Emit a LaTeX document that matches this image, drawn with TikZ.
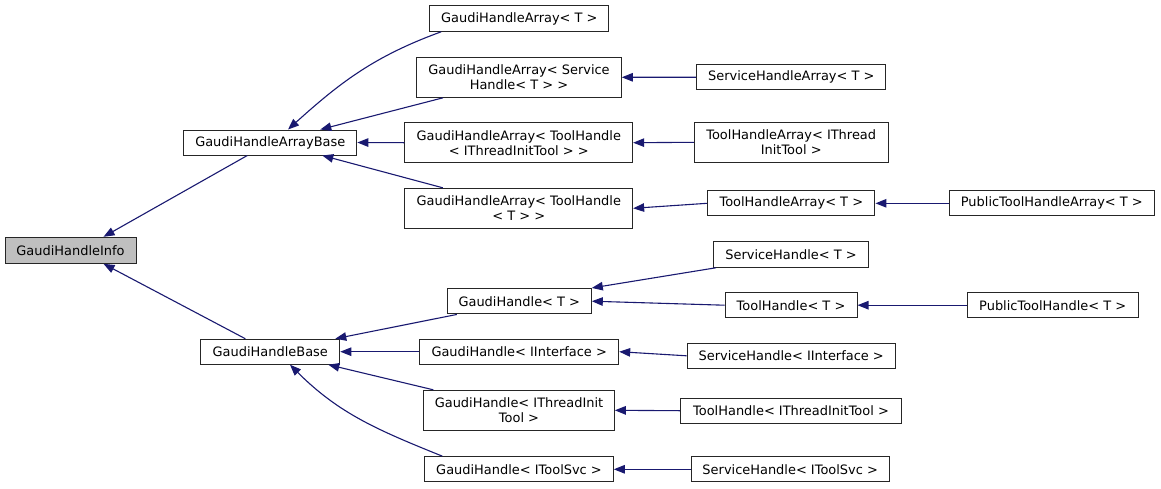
\documentclass[tikz,border=0pt]{standalone}
\usepackage{fontspec}
\setmainfont{DejaVu Sans}
\usetikzlibrary{arrows.meta}
\definecolor{edgecol}{HTML}{191970}
\definecolor{infofill}{HTML}{BFBFBF}
\begin{document}
\begin{tikzpicture}[x=1pt,y=1pt,
  cls/.style={draw=black!85,line width=1pt,inner sep=0pt,align=center,
    font=\fontsize{12.95}{15}\selectfont},
  inh/.style={draw=edgecol,line width=1.1pt,-{Triangle[length=11pt,width=8.5pt]}}]
\useasboundingbox (0,0) rectangle (1161,-488);
% column 1
\node[cls,fill=infofill,minimum width=131,minimum height=26] (info) at (70.5,-250.3) {GaudiHandleInfo};
% column 2
\node[cls,minimum width=173,minimum height=25] (arraybase) at (270.3,-142.5) {GaudiHandleArrayBase};
\node[cls,minimum width=139,minimum height=25] (handlebase) at (270.3,-351.7) {GaudiHandleBase};
% column 3
\node[cls,minimum width=179,minimum height=25.5] (ghat) at (519.3,-18.5) {GaudiHandleArray< T >};
\node[cls,minimum width=204.6,minimum height=40] (ghasvc) at (519,-77.3) {GaudiHandleArray< Service\\Handle< T > >};
\node[cls,minimum width=227.7,minimum height=40] (ghathi) at (518.8,-142.7) {GaudiHandleArray< ToolHandle\\< IThreadInitTool > >};
\node[cls,minimum width=227.7,minimum height=40] (ghatht) at (518.8,-208.3) {GaudiHandleArray< ToolHandle\\< T > >};
\node[cls,minimum width=144,minimum height=25.5] (ght) at (519.3,-301.2) {GaudiHandle< T >};
\node[cls,minimum width=199,minimum height=25.3] (ghii) at (519.2,-351.7) {GaudiHandle< IInterface >};
\node[cls,minimum width=190.6,minimum height=40] (ghiti) at (519,-410.3) {GaudiHandle< IThreadInit\\Tool >};
\node[cls,minimum width=188.6,minimum height=25.3] (ghits) at (519,-469.3) {GaudiHandle< IToolSvc >};
% column 4
\node[cls,minimum width=189.3,minimum height=25.5] (shat) at (791.3,-77.2) {ServiceHandleArray< T >};
\node[cls,minimum width=193.7,minimum height=40] (thai) at (791.2,-142.3) {ToolHandleArray< IThread\\InitTool >};
\node[cls,minimum width=167.3,minimum height=25.3] (thatt) at (791.3,-203.3) {ToolHandleArray< T >};
\node[cls,minimum width=155.4,minimum height=25.5] (sht) at (791,-254.5) {ServiceHandle< T >};
\node[cls,minimum width=132,minimum height=25] (tht) at (791,-305.2) {ToolHandle< T >};
\node[cls,minimum width=208.3,minimum height=25.5] (shii) at (791.2,-355.8) {ServiceHandle< IInterface >};
\node[cls,minimum width=220.6,minimum height=25.3] (thiti) at (791,-410.7) {ToolHandle< IThreadInitTool >};
\node[cls,minimum width=198.3,minimum height=25.3] (shits) at (790.2,-469.3) {ServiceHandle< IToolSvc >};
% column 5
\node[cls,minimum width=205,minimum height=25.3] (pthat) at (1051.8,-203.3) {PublicToolHandleArray< T >};
\node[cls,minimum width=171.3,minimum height=25] (ptht) at (1052.7,-305.2) {PublicToolHandle< T >};
% edges
\draw[inh] ([xshift=-23]arraybase.south) -- ([xshift=33]info.north);
\draw[inh] ([xshift=-25]handlebase.north) -- ([xshift=33]info.south);
\draw[inh] ([xshift=-78]ghat.south) to[out=200,in=42] ([xshift=17.7]arraybase.north);
\draw[inh] ([xshift=-76]ghasvc.south) -- ([xshift=50]arraybase.north);
\draw[inh] (ghathi.west) -- (arraybase.east);
\draw[inh] ([xshift=-76]ghatht.north) -- ([xshift=52]arraybase.south);
\draw[inh] ([xshift=-62.5]ght.south) -- ([xshift=-5]handlebase.north east);
\draw[inh] (ghii.west) -- (handlebase.east);
\draw[inh] ([xshift=-85.7]ghiti.north) -- ([xshift=-12]handlebase.south east);
\draw[inh] ([xshift=-76.7]ghits.north) to[out=158,in=-45] ([xshift=19.7]handlebase.south);
\draw[inh] ([xshift=-75]sht.south) -- (ght.north east);
\draw[inh] (tht.west) -- (ght.east);
\draw[inh] (ptht.west) -- (tht.east);
\draw[inh] (shii.west) -- (ghii.east);
\draw[inh] (thiti.west) -- (ghiti.east);
\draw[inh] (shits.west) -- (ghits.east);
\draw[inh] (shat.west) -- (ghasvc.east);
\draw[inh] (thai.west) -- (ghathi.east);
\draw[inh] (thatt.west) -- (ghatht.east);
\draw[inh] (pthat.west) -- (thatt.east);
\end{tikzpicture}
\end{document}
